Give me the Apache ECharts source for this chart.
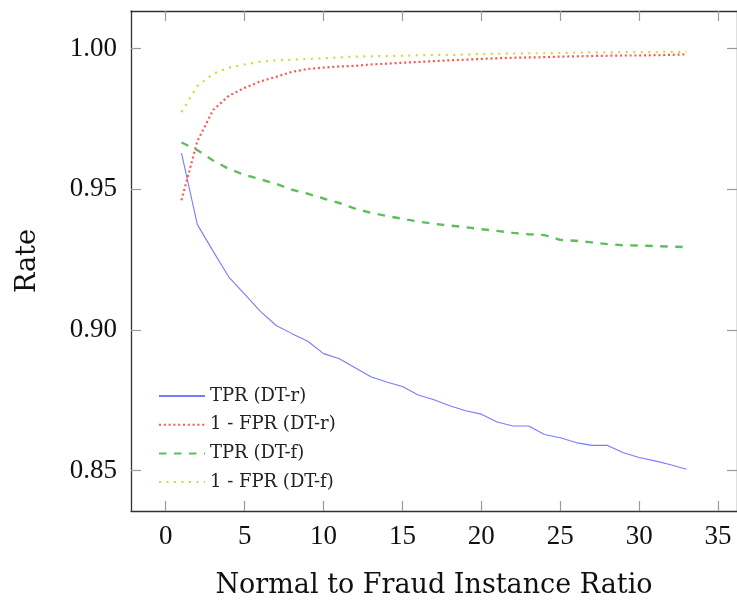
<!DOCTYPE html>
<html>
<head>
<meta charset="utf-8">
<script src="https://cdn.jsdelivr.net/npm/echarts@6/dist/echarts.min.js"></script>
<style>html,body{margin:0;padding:0;background:#fff;}#c{width:737px;height:604px;}</style>
</head>
<body>
<div id="c"></div>
<script>
const ratios = [1,2,3,4,5,6,7,8,9,10,11,12,13,14,15,16,17,18,19,20,21,22,23,24,25,26,27,28,29,30,31,32,33];
const tprR = [0.9628,0.9375,0.9280,0.9188,0.9127,0.9066,0.9016,0.8987,0.8960,0.8916,0.8898,0.8866,0.8834,0.8815,0.8799,0.8769,0.8752,0.8731,0.8713,0.8701,0.8673,0.8659,0.8659,0.8629,0.8617,0.8600,0.8590,0.8590,0.8564,0.8547,0.8535,0.8521,0.8505];
const fprR = [0.9461,0.9670,0.9781,0.9832,0.9860,0.9883,0.9899,0.9917,0.9927,0.9932,0.9936,0.9938,0.9943,0.9946,0.9949,0.9952,0.9955,0.9958,0.9960,0.9963,0.9965,0.9967,0.9968,0.9969,0.9971,0.9972,0.9973,0.9974,0.9975,0.9975,0.9976,0.9977,0.9979];
const tprF = [0.9666,0.9639,0.9602,0.9572,0.9551,0.9535,0.9519,0.9498,0.9484,0.9467,0.9451,0.9431,0.9416,0.9405,0.9395,0.9385,0.9377,0.9371,0.9365,0.9358,0.9352,0.9345,0.9340,0.9337,0.9320,0.9317,0.9311,0.9305,0.9301,0.9300,0.9298,0.9296,0.9294];
const fprF = [0.9774,0.9866,0.9910,0.9932,0.9943,0.9953,0.9958,0.9960,0.9963,0.9965,0.9968,0.9971,0.9972,0.9973,0.9974,0.9976,0.9977,0.9977,0.9978,0.9980,0.9981,0.9982,0.9983,0.9983,0.9984,0.9985,0.9986,0.9986,0.9987,0.9987,0.9987,0.9988,0.9988];
const xTicks = [0,5,10,15,20,25,30,35];
const yTicks = [0.85,0.90,0.95,1.00];
const seriesNames = ['TPR (DT-r)','1 - FPR (DT-r)','TPR (DT-f)','1 - FPR (DT-f)'];
const xTitle = 'Normal to Fraud Instance Ratio';
const yTitle = 'Rate';

const pair = (arr) => ratios.map((r,i) => [r, arr[i]]);
const numFont = 'Liberation Serif';
const txtFont = 'DejaVu Serif';
const tickStyle = {show:true, inside:true, length:10, lineStyle:{color:'#9a9a9a', width:1.2}};
const axisLineStyle = () => ({show:true, onZero:false, lineStyle:{color:'#333', width:1.3}});

const chart = echarts.init(document.getElementById('c'), null, {renderer:'canvas'});
chart.setOption({
  animation:false,
  backgroundColor:'#fff',
  grid:{left:131, top:11, width:607, height:506, containLabel:false},
  legend:{
    orient:'vertical', left:153, top:382,
    itemWidth:46, itemHeight:14, itemGap:10.7,
    itemStyle:{color:'rgba(0,0,0,0)', borderWidth:0},
    textStyle:{fontFamily:txtFont, fontSize:18, color:'#222', lineHeight:17},
    data:seriesNames
  },
  xAxis:[{
    type:'value', min:-2.2, max:36.2, position:'bottom',
    axisLine:axisLineStyle(),
    axisTick:Object.assign({customValues:xTicks}, tickStyle),
    axisLabel:{customValues:xTicks, fontFamily:numFont, fontSize:27, color:'#111', margin:12},
    splitLine:{show:false},
    name:xTitle, nameLocation:'middle', nameGap:61,
    nameTextStyle:{fontFamily:txtFont, fontSize:27, color:'#111'}
  },{
    type:'value', min:-2.2, max:36.2, position:'top',
    axisLine:axisLineStyle(),
    axisTick:Object.assign({customValues:xTicks}, tickStyle),
    axisLabel:{show:false}, splitLine:{show:false}
  }],
  yAxis:[{
    type:'value', min:0.8357, max:1.0133, position:'left',
    axisLine:axisLineStyle(),
    axisTick:Object.assign({customValues:yTicks}, tickStyle),
    axisLabel:{customValues:yTicks, fontFamily:numFont, fontSize:27, color:'#111', margin:14,
      padding:[4,0,0,0], formatter:(v)=>v.toFixed(2)},
    splitLine:{show:false},
    name:yTitle, nameLocation:'middle', nameGap:90, nameRotate:90,
    nameTextStyle:{fontFamily:txtFont, fontSize:27, color:'#111'}
  },{
    type:'value', min:0.8357, max:1.0133, position:'right',
    axisLine:axisLineStyle(),
    axisTick:Object.assign({customValues:yTicks}, tickStyle),
    axisLabel:{show:false}, splitLine:{show:false}
  }],
  series:[
    {name:seriesNames[0], type:'line', data:pair(tprR), symbol:'none', showSymbol:false,
      lineStyle:{color:'#7a7aff', width:1.1, type:'solid'}, itemStyle:{color:'#7a7aff'}},
    {name:seriesNames[1], type:'line', data:pair(fprR), symbol:'none', showSymbol:false,
      lineStyle:{color:'#ff5555', width:2.2, type:[2,2.8]}, itemStyle:{color:'#ff5555'}},
    {name:seriesNames[2], type:'line', data:pair(tprF), symbol:'none', showSymbol:false,
      lineStyle:{color:'#5cbf5c', width:2.4, type:[7.5,7.5]}, itemStyle:{color:'#5cbf5c'}},
    {name:seriesNames[3], type:'line', data:pair(fprF), symbol:'none', showSymbol:false,
      lineStyle:{color:'#d6d63a', width:2.2, type:[2,5.5]}, itemStyle:{color:'#d6d63a'}}
  ]
});
</script>
</body>
</html>
